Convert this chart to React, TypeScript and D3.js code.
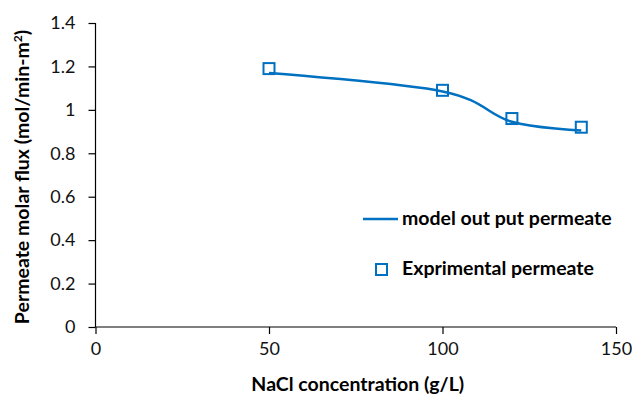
import React, { useEffect, useRef } from 'react';
import * as d3 from 'd3';

// NaCl concentration (g/L)
const expX = [50, 100, 120, 140];
const expY = [1.19, 1.09, 0.96, 0.92];

const modelX = [50, 100, 120, 140];
const modelY = [1.17, 1.085, 0.945, 0.905];

const xTicks = [0, 50, 100, 150];
const yTicks = [0, 0.2, 0.4, 0.6, 0.8, 1, 1.2, 1.4];

const BLUE = '#0070C0';
const FONT = 'Lato, "Open Sans", sans-serif';

const App = () => {
  const ref = useRef<SVGSVGElement>(null);

  useEffect(() => {
    const width = 632;
    const height = 395;
    const margin = { top: 23, right: 16, bottom: 68, left: 95.5 };
    const innerW = width - margin.left - margin.right;
    const innerH = height - margin.top - margin.bottom;

    const svg = d3.select(ref.current);
    svg.selectAll('*').remove();

    const g = svg.append('g').attr('transform', `translate(${margin.left},${margin.top})`);

    const x = d3.scaleLinear().domain([0, 150]).range([0, innerW]);
    const y = d3.scaleLinear().domain([0, 1.4]).range([innerH, 0]);

    // axes
    const yAxis = g.append('g')
      .call(d3.axisLeft(y).tickValues(yTicks).tickSize(7).tickPadding(13).tickFormat(d => String(d)));
    const xAxis = g.append('g')
      .attr('transform', `translate(0,${innerH})`)
      .call(d3.axisBottom(x).tickValues(xTicks).tickSize(7).tickPadding(8).tickFormat(d => String(d)));

    [yAxis, xAxis].forEach(a => {
      a.select('.domain').attr('stroke', '#000').attr('stroke-width', 1.2);
      a.selectAll('.tick line').attr('stroke', '#000').attr('stroke-width', 1.2);
      a.selectAll('.tick text').style('font-family', FONT).style('font-size', '18px').attr('fill', '#111');
    });
    xAxis.select('.domain').attr('d', `M0,0H${innerW}`);
    yAxis.select('.domain').attr('d', `M0,${innerH}V0`);

    // model line (Excel-style smoothing)
    const line = d3.line<number>()
      .x((_, i) => x(modelX[i]))
      .y(d => y(d))
      .curve(d3.curveCardinal.tension(0));

    g.append('path')
      .datum(modelY)
      .attr('fill', 'none')
      .attr('stroke', BLUE)
      .attr('stroke-width', 2.5)
      .attr('d', line);

    // experimental markers
    const s = 11;
    g.selectAll('rect.exp')
      .data(expY)
      .enter()
      .append('rect')
      .attr('class', 'exp')
      .attr('x', (_, i) => x(expX[i]) - s / 2)
      .attr('y', d => y(d) - s / 2)
      .attr('width', s)
      .attr('height', s)
      .attr('fill', 'none')
      .attr('stroke', BLUE)
      .attr('stroke-width', 2);

    const boldText = (sel: d3.Selection<SVGTextElement, unknown, null, undefined>) =>
      sel.style('font-family', FONT).style('font-size', '19.5px').style('font-weight', 'bold').attr('fill', '#000');

    // legend
    const lg = svg.append('g');
    lg.append('line')
      .attr('x1', 363).attr('x2', 398).attr('y1', 219).attr('y2', 219)
      .attr('stroke', BLUE).attr('stroke-width', 2.5);
    lg.append('text')
      .attr('x', 402).attr('y', 225)
      .call(boldText)
      .text('model out put permeate');
    lg.append('rect')
      .attr('x', 376).attr('y', 264).attr('width', 11).attr('height', 11)
      .attr('fill', 'none').attr('stroke', BLUE).attr('stroke-width', 2);
    lg.append('text')
      .attr('x', 402).attr('y', 275)
      .call(boldText)
      .text('Exprimental permeate');

    // axis titles
    svg.append('text')
      .attr('x', margin.left + innerW / 2 + 2)
      .attr('y', 391)
      .attr('text-anchor', 'middle')
      .call(boldText)
      .text('NaCl concentration (g/L)');

    const yt = svg.append('text')
      .attr('transform', `translate(29,${margin.top + innerH / 2 + 2}) rotate(-90)`)
      .attr('text-anchor', 'middle')
      .call(boldText);
    yt.append('tspan').text('Permeate molar flux (mol/min-m');
    yt.append('tspan').attr('baseline-shift', 'super').style('font-size', '12px').text('2');
    yt.append('tspan').text(')');
  }, []);

  return (
    <svg
      ref={ref}
      width={632}
      height={395}
      style={{ position: 'absolute', left: 0, top: 0, background: '#fff' }}
    />
  );
};

export default App;
